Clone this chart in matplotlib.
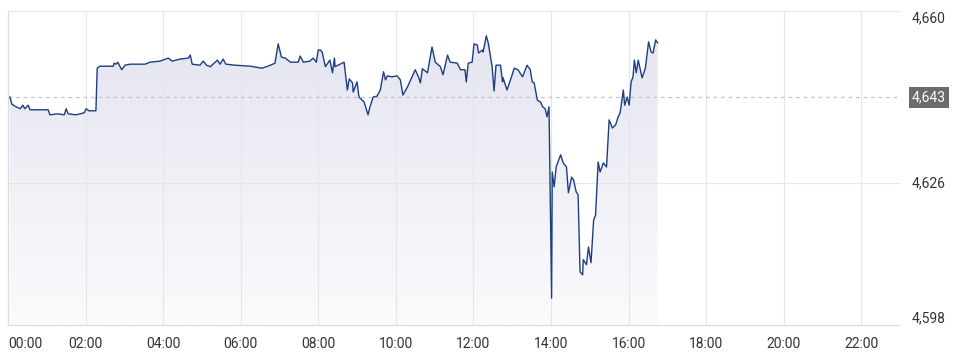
"""Intraday koersgrafiek met verloop en vorige slotkoers."""

import numpy as np
import matplotlib
matplotlib.use('Agg')
import matplotlib.pyplot as plt
from matplotlib.colors import LinearSegmentedColormap
from matplotlib.patches import Polygon

plt.rcParams['font.family'] = ['Roboto', 'DejaVu Sans']

# minuten sinds middernacht
minuten = [
    3, 6, 12, 19, 23, 26, 31, 34, 62, 65, 77, 87, 90, 93, 105, 118, 121, 125,
    136, 138, 142, 163, 164, 167, 170, 173, 176, 181, 189, 212, 220, 235, 248,
    254, 266, 279, 282, 285, 297, 302, 307, 313, 324, 328, 333, 337, 351, 375,
    393, 406, 413, 418, 423, 429, 437, 449, 452, 457, 467, 472, 477, 480, 483,
    486, 491, 498, 502, 505, 506, 517, 520, 525, 528, 533, 534, 540, 543, 548,
    551, 557, 560, 565, 571, 576, 581, 584, 587, 594, 602, 607, 611, 618, 625,
    630, 635, 638, 641, 649, 656, 661, 669, 673, 680, 684, 695, 700, 707, 709,
    712, 718, 721, 726, 728, 734, 735, 740, 743, 749, 752, 755, 762, 765, 766,
    772, 780, 783, 789, 796, 803, 808, 811, 814, 819, 824, 827, 831, 834, 837,
    841, 842, 845, 848, 855, 859, 864, 867, 872, 875, 879, 882, 885, 889, 890,
    895, 898, 902, 906, 909, 913, 916, 921, 926, 930, 935, 940, 944, 947, 952,
    954, 958, 961, 964, 967, 969, 972, 975, 981, 986, 991, 995, 998, 1002, 1005,
]
koers = [
    4643.0, 4641.6, 4641.1, 4640.7, 4641.4, 4640.7, 4641.4, 4640.5, 4640.5,
    4639.5, 4639.7, 4639.5, 4640.7, 4639.7, 4639.5, 4639.9, 4640.7, 4640.3,
    4640.3, 4648.7, 4649.1, 4649.1, 4649.7, 4649.5, 4649.9, 4649.1, 4648.4,
    4649.3, 4649.5, 4649.5, 4649.9, 4650.1, 4650.7, 4650.1, 4650.5, 4650.7,
    4651.3, 4649.5, 4649.3, 4650.1, 4649.3, 4649.0, 4650.3, 4649.5, 4650.5,
    4649.5, 4649.3, 4649.1, 4648.7, 4649.3, 4649.7, 4653.5, 4650.9, 4650.7,
    4649.9, 4649.9, 4651.1, 4649.9, 4650.1, 4650.7, 4649.9, 4652.3, 4652.3,
    4651.9, 4649.0, 4650.3, 4647.8, 4650.7, 4649.0, 4649.7, 4649.9, 4644.4,
    4646.6, 4645.8, 4644.0, 4646.0, 4643.0, 4642.4, 4642.0, 4639.5, 4641.1,
    4643.0, 4643.2, 4644.4, 4648.0, 4646.4, 4647.2, 4647.0, 4647.2, 4646.4,
    4643.4, 4645.0, 4647.0, 4648.4, 4647.0, 4645.8, 4648.6, 4647.8, 4652.9,
    4649.9, 4649.0, 4647.4, 4651.3, 4649.9, 4649.7, 4648.4, 4648.4, 4646.0,
    4649.7, 4649.9, 4653.5, 4653.3, 4651.7, 4652.3, 4651.9, 4655.1, 4653.7,
    4649.0, 4644.2, 4649.3, 4649.3, 4646.0, 4646.8, 4644.4, 4647.4, 4648.7,
    4648.4, 4647.0, 4649.3, 4648.4, 4646.0, 4645.8, 4642.4, 4642.0, 4641.1,
    4640.7, 4639.1, 4641.1, 4603.3, 4628.2, 4625.3, 4629.2, 4631.6, 4630.0,
    4629.2, 4624.1, 4627.2, 4626.6, 4624.3, 4623.7, 4608.5, 4607.9, 4610.9,
    4609.9, 4613.4, 4610.3, 4618.7, 4619.7, 4630.2, 4628.2, 4630.0, 4629.2,
    4638.5, 4636.9, 4637.5, 4639.1, 4639.9, 4644.4, 4641.4, 4643.0, 4641.4,
    4646.0, 4647.0, 4650.3, 4647.8, 4650.3, 4646.8, 4648.7, 4653.9, 4651.9,
    4651.7, 4654.3, 4653.7,
]
vorige_slot = 4643
y_labels = [4660, 4626, 4598]
uren = list(range(0, 24, 2))

t = np.array(minuten) / 60.0
p = np.array(koers)
y_min, y_max = 4598, 4660

fig = plt.figure(figsize=(9.6, 3.61), dpi=100)
ax = fig.add_axes([8 / 960, 36 / 361, 892 / 960, 314 / 361])
ax.set_xlim(0, 23)
ax.set_ylim(y_min, y_max)

# verloopvulling onder de lijn
cmap = LinearSegmentedColormap.from_list('vul', ['#fbfbfd', '#e3e3f0'])
grad = np.linspace(0, 1, 256).reshape(-1, 1)
im = ax.imshow(grad, cmap=cmap, origin='lower', aspect='auto',
               extent=[0, 23, y_min, y_max], zorder=1)
rand = np.column_stack([
    np.concatenate([[t[0]], t, [t[-1]]]),
    np.concatenate([[y_min], p, [y_min]]),
])
vorm = Polygon(rand, closed=True, transform=ax.transData, fc='none', ec='none')
ax.add_patch(vorm)
im.set_clip_path(vorm)

# rasterlijnen, zichtbaar door de vulling heen
for h in uren[1:]:
    ax.axvline(h, color='#e6e6ea', lw=0.8, zorder=1.5)
for v in (4626, 4660):
    ax.axhline(v, color='#e6e6ea', lw=0.8, zorder=1.5)
ax.axhline(vorige_slot, color='#c4c4c4', lw=0.9, dashes=(3, 3), zorder=2)

ax.plot(t, p, color='#1d3f7f', lw=1.0, zorder=3)

for kant in ('top', 'right'):
    ax.spines[kant].set_visible(False)
for kant in ('left', 'bottom'):
    ax.spines[kant].set_color('#dcdcdc')
    ax.spines[kant].set_linewidth(0.9)

ax.set_xticks(uren)
ax.set_xticklabels([f'{h:02d}:00' for h in uren])
ax.tick_params(axis='x', length=0, pad=9, labelsize=10, labelcolor='#333333')
ax.get_xticklabels()[0].set_horizontalalignment('left')
ax.set_yticks([])

trans = ax.get_yaxis_transform()
uitlijning = {4660: ('top', 0), 4626: ('center', 0), 4598: ('baseline', 3)}
for v in y_labels:
    va, dy = uitlijning[v]
    ax.annotate(f'{v:,}', xy=(1, v), xycoords=trans, xytext=(12, dy),
                textcoords='offset pixels', ha='left', va=va,
                fontsize=10, color='#333333', annotation_clip=False)
ax.annotate(f'{vorige_slot:,}', xy=(1, vorige_slot), xycoords=trans,
            xytext=(12, 0), textcoords='offset pixels', ha='left',
            va='center', fontsize=10, color='white', annotation_clip=False,
            bbox=dict(boxstyle='square,pad=0.25', fc='#6b6b6b', ec='none'))

fig.savefig('out.png', dpi=100)
